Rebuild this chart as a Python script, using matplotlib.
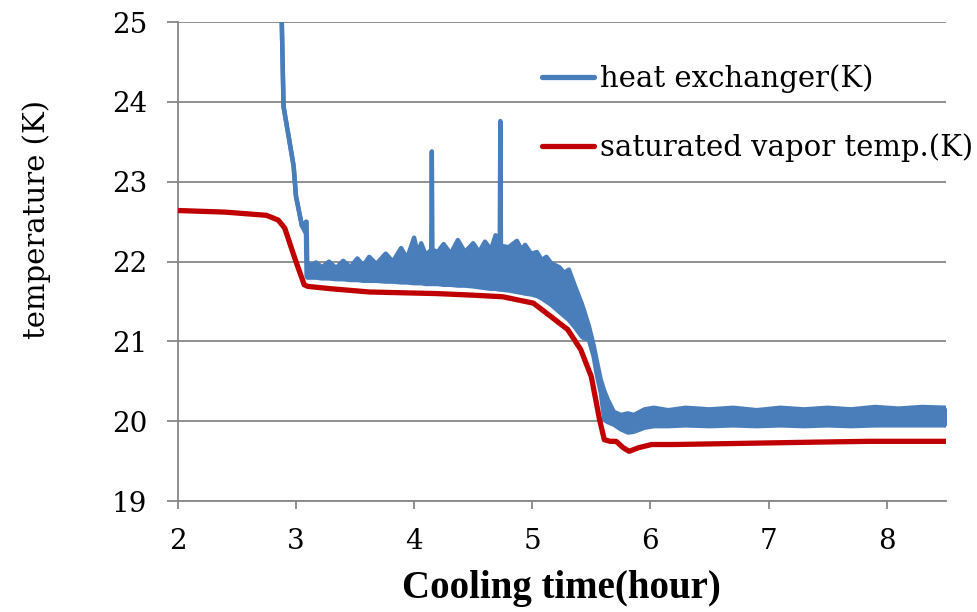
import numpy as np
import matplotlib
matplotlib.use("Agg")
import matplotlib.pyplot as plt

# saturated vapor temperature (K)
t_sat = [2.0, 2.4, 2.75, 2.85, 2.905, 2.95, 3.0, 3.07, 3.10, 3.3, 3.62, 3.9, 4.19,
         4.5, 4.75, 5.01, 5.16, 5.30, 5.41, 5.50, 5.57, 5.61, 5.66, 5.71, 5.77,
         5.82, 5.9, 6.01, 6.2, 6.6, 7.0, 7.4, 7.85, 8.2, 8.51]
T_sat = [22.64, 22.62, 22.58, 22.52, 22.42, 22.22, 22.0, 21.71, 21.69, 21.66, 21.62,
         21.61, 21.60, 21.58, 21.56, 21.48, 21.31, 21.15, 20.90, 20.56, 20.02, 19.77,
         19.75, 19.75, 19.67, 19.625, 19.67, 19.71, 19.71, 19.72, 19.73, 19.74,
         19.75, 19.75, 19.75]

# heat exchanger (K): lower / upper edge of the noisy trace
t_hx = [2.87, 2.88, 2.895, 2.94, 2.98, 3.0, 3.03, 3.05, 3.085, 3.09, 3.095,
        3.12, 3.17, 3.22, 3.28, 3.34, 3.40, 3.46, 3.52, 3.57, 3.62, 3.68, 3.76,
        3.82, 3.89, 3.94, 4.00, 4.03, 4.06, 4.10, 4.145, 4.15, 4.155, 4.20, 4.25,
        4.31, 4.37, 4.43, 4.50, 4.55, 4.60, 4.65, 4.69, 4.725, 4.73, 4.735, 4.80,
        4.87, 4.91, 4.94, 4.99, 5.04, 5.08, 5.12, 5.16, 5.23, 5.27, 5.31, 5.36,
        5.42, 5.44, 5.48, 5.52, 5.55, 5.58, 5.61, 5.64, 5.69, 5.75, 5.81, 5.86,
        5.95, 6.03, 6.15, 6.3, 6.5, 6.7, 6.9, 7.1, 7.3, 7.5, 7.7, 7.9, 8.1, 8.3, 8.51]
T_hx_lo = [26.0, 25.0, 23.94, 23.55, 23.2, 22.82, 22.6, 22.45, 22.35, 21.82, 21.80,
           21.80, 21.80, 21.79, 21.79, 21.78, 21.78, 21.77, 21.77, 21.76, 21.76, 21.76, 21.75,
           21.75, 21.74, 21.74, 21.73, 21.73, 21.73, 21.72, 21.72, 21.72, 21.72, 21.72, 21.71,
           21.71, 21.70, 21.70, 21.69, 21.68, 21.67, 21.66, 21.66, 21.65, 21.65, 21.65, 21.64,
           21.62, 21.61, 21.60, 21.59, 21.57, 21.54, 21.50, 21.46, 21.37, 21.32, 21.27, 21.18,
           21.06, 21.04, 21.02, 20.81, 20.56, 20.36, 20.02, 19.99, 19.96, 19.90, 19.86, 19.87,
           19.92, 19.94, 19.94, 19.95, 19.94, 19.95, 19.94, 19.95, 19.94, 19.95, 19.94, 19.95,
           19.95, 19.95, 19.95]
T_hx_hi = [26.0, 25.0, 23.94, 23.55, 23.2, 22.82, 22.6, 22.45, 22.5, 22.5, 22.0,
           21.95, 21.99, 21.93, 22.0, 21.92, 22.01, 21.93, 22.04, 21.95, 22.06, 21.97, 22.10,
           22.0, 22.17, 22.04, 22.30, 22.10, 22.23, 22.08, 22.15, 23.38, 22.15, 22.12, 22.22,
           22.10, 22.27, 22.12, 22.23, 22.12, 22.25, 22.15, 22.33, 22.2, 23.76, 22.2, 22.18,
           22.26, 22.15, 22.21, 22.10, 22.12, 22.02, 22.06, 21.98, 21.93, 21.86, 21.90, 21.70,
           21.47, 21.38, 21.19, 20.95, 20.73, 20.52, 20.38, 20.27, 20.12, 20.08, 20.10, 20.08,
           20.15, 20.17, 20.14, 20.17, 20.15, 20.17, 20.14, 20.17, 20.15, 20.17, 20.15, 20.18,
           20.16, 20.18, 20.17]

blue = "#4a7ebb"
red = "#c00000"
gray = "#878787"

fig = plt.figure(figsize=(9.77, 6.12), dpi=100)
ax = fig.add_axes([0.182, 0.181, 0.786, 0.783])

ax.fill_between(t_hx, T_hx_lo, T_hx_hi, color=blue, lw=0, zorder=3)
ax.plot(t_hx, T_hx_lo, color=blue, lw=3.2, solid_capstyle="round", zorder=3)
ax.plot(t_hx, T_hx_hi, color=blue, lw=3.2, solid_capstyle="round", zorder=3,
        label="heat exchanger(K)")
ax.plot(t_sat, T_sat, color=red, lw=3.8, solid_capstyle="round", zorder=4,
        label="saturated vapor temp.(K)")

ax.set_xlim(2, 8.5)
ax.set_ylim(19, 25)
ax.set_xticks(range(2, 9))
ax.set_yticks(range(19, 26))
ax.yaxis.grid(True, color=gray, lw=1.3)
ax.set_axisbelow(True)
for s in ["top", "right"]:
    ax.spines[s].set_visible(False)
for s in ["left", "bottom"]:
    ax.spines[s].set_color(gray)
    ax.spines[s].set_linewidth(1.3)
ax.tick_params(axis="y", length=8, width=1.3, color=gray, pad=14)
ax.tick_params(axis="x", length=6, width=1.3, color=gray, pad=13)

serif = "DejaVu Serif"
for lab in ax.get_xticklabels() + ax.get_yticklabels():
    lab.set_family(serif)
    lab.set_fontsize(20)

ax.set_xlabel("Cooling time(hour)", family="Liberation Serif", fontsize=28,
              fontweight="bold", labelpad=11)
ax.set_ylabel("temperature (K)", family=serif, fontsize=21)
ax.yaxis.set_label_coords(-0.165, 0.587)

leg = ax.legend(loc="upper left", bbox_to_anchor=(0.44, 0.966), frameon=False,
                prop={"family": serif, "size": 21}, handlelength=1.8,
                handletextpad=0.2, labelspacing=1.36)
for h in leg.get_lines():
    h.set_linewidth(3.8)

fig.savefig("out.png", dpi=100)
